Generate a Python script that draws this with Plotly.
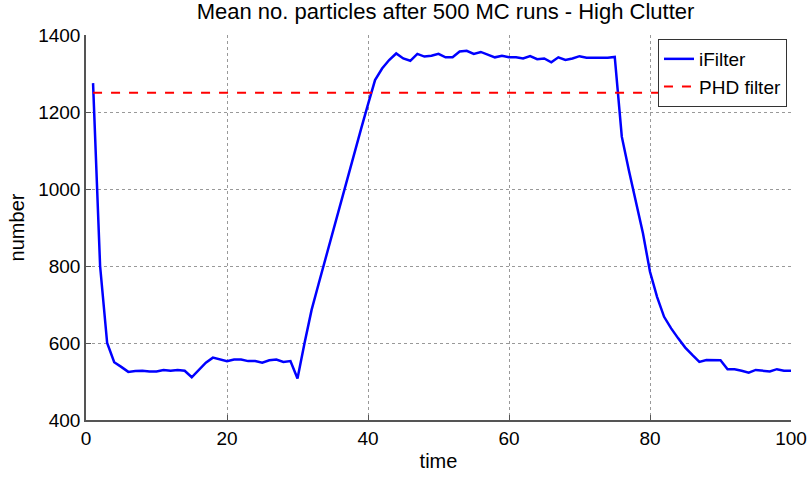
import plotly.graph_objects as go

t = list(range(1, 101))
ifilter = [1275, 800, 600, 550, 538, 525, 527, 528, 526, 526,
           530, 528, 530, 528, 511, 530, 549, 562, 557, 553,
           557, 557, 553, 553, 549, 555, 557, 551, 553, 508,
           600, 686, 754, 822, 887, 953, 1019, 1087, 1155, 1220,
           1283, 1313, 1335, 1352, 1339, 1333, 1351, 1344, 1346, 1351,
           1342, 1342, 1357, 1359, 1351, 1356, 1350, 1342, 1346, 1342,
           1342, 1339, 1345, 1337, 1339, 1329, 1342, 1335, 1339, 1345,
           1341, 1341, 1341, 1341, 1343, 1136, 1049, 963, 885, 785,
           720, 668, 638, 612, 588, 569, 551, 556, 556, 555,
           532, 532, 528, 523, 530, 528, 526, 532, 528, 528]
phd_t = [1, 100]
phd = [1250, 1250]

FONT = "Liberation Sans, Arial, sans-serif"

fig = go.Figure()
fig.add_trace(go.Scatter(x=t, y=ifilter, mode="lines", name="iFilter",
                         line=dict(color="#0000ff", width=2.5)))
fig.add_trace(go.Scatter(x=phd_t, y=phd, mode="lines", name="PHD filter",
                         line=dict(color="#ff0000", width=2, dash="dash")))

fig.update_layout(
    width=807, height=479,
    margin=dict(l=86, r=16, t=35, b=59, autoexpand=False),
    paper_bgcolor="white", plot_bgcolor="white",
    font=dict(family=FONT, size=19, color="black"),
    title=dict(text="Mean no. particles after 500 MC runs - High Clutter",
               xref="paper", x=0.51, xanchor="center",
               yref="container", y=1 - 11 / 479, yanchor="middle",
               font=dict(size=22)),
    showlegend=True,
    legend=dict(x=0.9943, xanchor="right", y=0.9896, yanchor="top",
                bgcolor="white", bordercolor="#333333", borderwidth=1,
                font=dict(size=19), tracegroupgap=0, itemwidth=30),
    xaxis=dict(range=[0, 100], tickvals=[0, 20, 40, 60, 80, 100],
               showgrid=True, gridcolor="#999999", griddash="dot", gridwidth=1,
               showline=True, linecolor="#555555", linewidth=1.5,
               ticks="inside", ticklen=5, tickcolor="#555555",
               zeroline=False, automargin=False,
               title=dict(text="time", standoff=6, font=dict(size=20)),
               tickfont=dict(size=19)),
    yaxis=dict(range=[400, 1400], tickvals=[400, 600, 800, 1000, 1200, 1400],
               showgrid=True, gridcolor="#999999", griddash="dot", gridwidth=1,
               showline=True, linecolor="#555555", linewidth=1.5,
               ticks="inside", ticklen=5, tickcolor="#555555",
               zeroline=False, automargin=False,
               title=dict(text="number", standoff=8, font=dict(size=20)),
               tickfont=dict(size=19)),
)

fig.write_html("out.html", config={"displayModeBar": False},
               post_script="document.body.style.margin='0';")
